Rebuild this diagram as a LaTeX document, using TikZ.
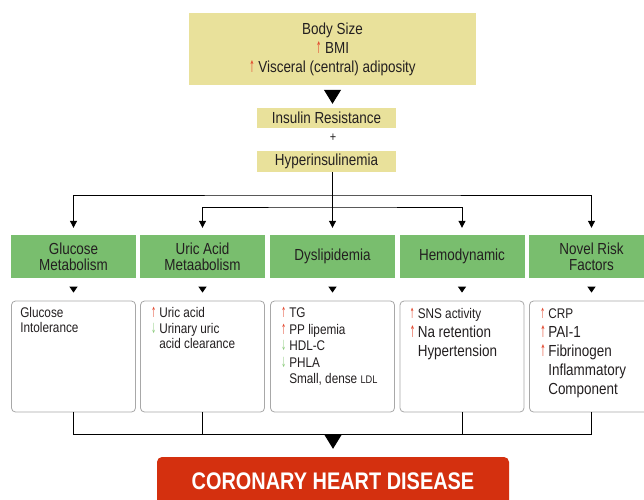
\documentclass[tikz,border=0pt]{standalone}
\usepackage{fontspec}
\setmainfont[FakeStretch=0.84]{Liberation Sans}
\newfontfamily\arrfont[FakeStretch=0.4]{DejaVu Sans}
\newfontfamily\chdfont[FakeStretch=0.83]{Liberation Sans}
\usetikzlibrary{arrows.meta}
\definecolor{bodyY}{HTML}{E9E19B}
\definecolor{grn}{HTML}{79BE6E}
\definecolor{chdR}{HTML}{D4300F}
\definecolor{upR}{HTML}{E2452B}
\definecolor{dnG}{HTML}{8FCC80}
\definecolor{bordG}{HTML}{A8A8A8}
\definecolor{txt}{HTML}{231F20}
\newcommand{\upar}{{\arrfont\color{upR}↑}}
\newcommand{\dnar}{{\arrfont\color{dnG}↓}}
\newcommand{\ind}[1]{\makebox[8pt][l]{#1}}
\begin{document}
\begin{tikzpicture}[x=1pt,y=-1pt,
  every node/.style={text=txt},
  ybox/.style={fill=bodyY, inner sep=0pt, font=\fontsize{16}{19}\selectfont, align=center},
  gbox/.style={fill=grn, inner sep=0pt, minimum width=125pt, minimum height=43pt, align=center, font=\fontsize{16}{16}\selectfont},
  cbox/.style={draw=bordG, line width=0.8pt, rounded corners=4pt, inner sep=0pt, minimum width=124pt, minimum height=111pt},
  ctext/.style={anchor=north west, inner sep=0pt, align=left, font=\fontsize{14}{15.5}\selectfont},
  conn/.style={line width=1pt, black},
  tipS/.style={conn, -{Triangle[width=7pt,length=7pt]}},
  tipSS/.style={conn, {Triangle[width=7pt,length=7pt]}-{Triangle[width=7pt,length=7pt]}},
  tipM/.style={conn, -{Triangle[width=8pt,length=6pt]}},
  tipL/.style={conn, -{Triangle[width=17pt,length=14pt]}}
]
\useasboundingbox[fill=white] (0,0) rectangle (644,499);

% top boxes
\node[ybox, minimum width=287pt, minimum height=72pt] (body) at (332.5,49)
  {Body Size\\\upar\ BMI\\\upar\ Visceral (central) adiposity};
\node[ybox, minimum width=139pt, minimum height=20pt] (ins) at (326.5,118) {Insulin Resistance};
\node[inner sep=0pt, font=\fontsize{13}{13}\selectfont] (plus) at (333,138) {+};
\node[ybox, minimum width=139pt, minimum height=21pt] (hyp) at (326.5,161.5) {Hyperinsulinemia};

% green headings
\node[gbox] (g1) at (73.5,256.5) {Glucose\\Metabolism};
\node[gbox] (g2) at (202.5,256.5) {Uric Acid\\Metaabolism};
\node[gbox] (g3) at (332.5,256.5) {Dyslipidemia};
\node[gbox] (g4) at (462,256.5) {Hemodynamic};
\node[gbox] (g5) at (591.5,256.5) {Novel Risk\\Factors};

% content boxes
\node[cbox] (c1) at (73.5,356.5) {};
\node[cbox] (c2) at (202.5,356.5) {};
\node[cbox] (c3) at (332.5,356.5) {};
\node[cbox] (c4) at (462,356.5) {};
\node[cbox] (c5) at (591.5,356.5) {};

\node[ctext] (t1) at ([shift={(9,6.5)}]c1.north west) {Glucose\\Intolerance};
\node[ctext] (t2) at ([shift={(11,6.5)}]c2.north west)
  {\ind{\upar}Uric acid\\\ind{\dnar}Urinary uric\\\ind{}acid clearance};
\node[ctext, font=\fontsize{14}{16.5}\selectfont] (t3) at ([shift={(11,6.5)}]c3.north west)
  {\ind{\upar}TG\\\ind{\upar}PP lipemia\\\ind{\dnar}HDL-C\\\ind{\dnar}PHLA\\\ind{}Small, dense {\fontsize{11}{16.5}\selectfont LDL}};
\node[ctext, font=\fontsize{16}{19}\selectfont] (t4) at ([shift={(10,7)}]c4.north west)
  {{\fontsize{14}{19}\selectfont\ind{\upar}SNS activity}\\\ind{\upar}Na retention\\\ind{}Hypertension};
\node[ctext, font=\fontsize{16}{19}\selectfont] (t5) at ([shift={(11,7)}]c5.north west)
  {{\fontsize{14}{19}\selectfont\ind{\upar}CRP}\\\ind{\upar}PAI-1\\\ind{\upar}Fibrinogen\\\ind{}Inflammatory\\\ind{}Component};

% bottom box
\node[fill=chdR, rounded corners=5pt, minimum width=352pt, minimum height=48pt, inner sep=0pt,
  text=white, font=\chdfont\bfseries\fontsize{24}{24}\selectfont] (chd) at (333,481) {CORONARY HEART DISEASE};

% connectors
\coordinate (busA) at (333,195);
\coordinate (busB) at (333,207);
\coordinate (busC) at (333,434);

\draw[tipL, shorten <=5pt, shorten >=4pt] (body.south) -- (body.south |- ins.north);
\draw[tipS, shorten >=7pt] (hyp.south -| g3.north) -- (g3.north);
\draw[tipSS, shorten <=7pt, shorten >=7pt] (g1.north) |- (busA) -| (g5.north);
\draw[tipSS, shorten <=7pt, shorten >=7pt] (g2.north) |- (busB) -| (g4.north);

\draw[tipM, shorten <=9pt, shorten >=8pt] (g1.south) -- (c1.north);
\draw[tipM, shorten <=9pt, shorten >=8pt] (g2.south) -- (c2.north);
\draw[tipM, shorten <=9pt, shorten >=8pt] (g3.south) -- (c3.north);
\draw[tipM, shorten <=9pt, shorten >=8pt] (g4.south) -- (c4.north);
\draw[tipM, shorten <=9pt, shorten >=8pt] (g5.south) -- (c5.north);

\draw[conn] (c1.south) |- (busC) -| (c5.south);
\draw[conn] (c2.south) -- (c2.south |- busC);
\draw[conn] (c4.south) -- (c4.south |- busC);
\draw[tipL, shorten <=1pt, shorten >=8pt] (busC) -- (chd.north);
\end{tikzpicture}
\end{document}
